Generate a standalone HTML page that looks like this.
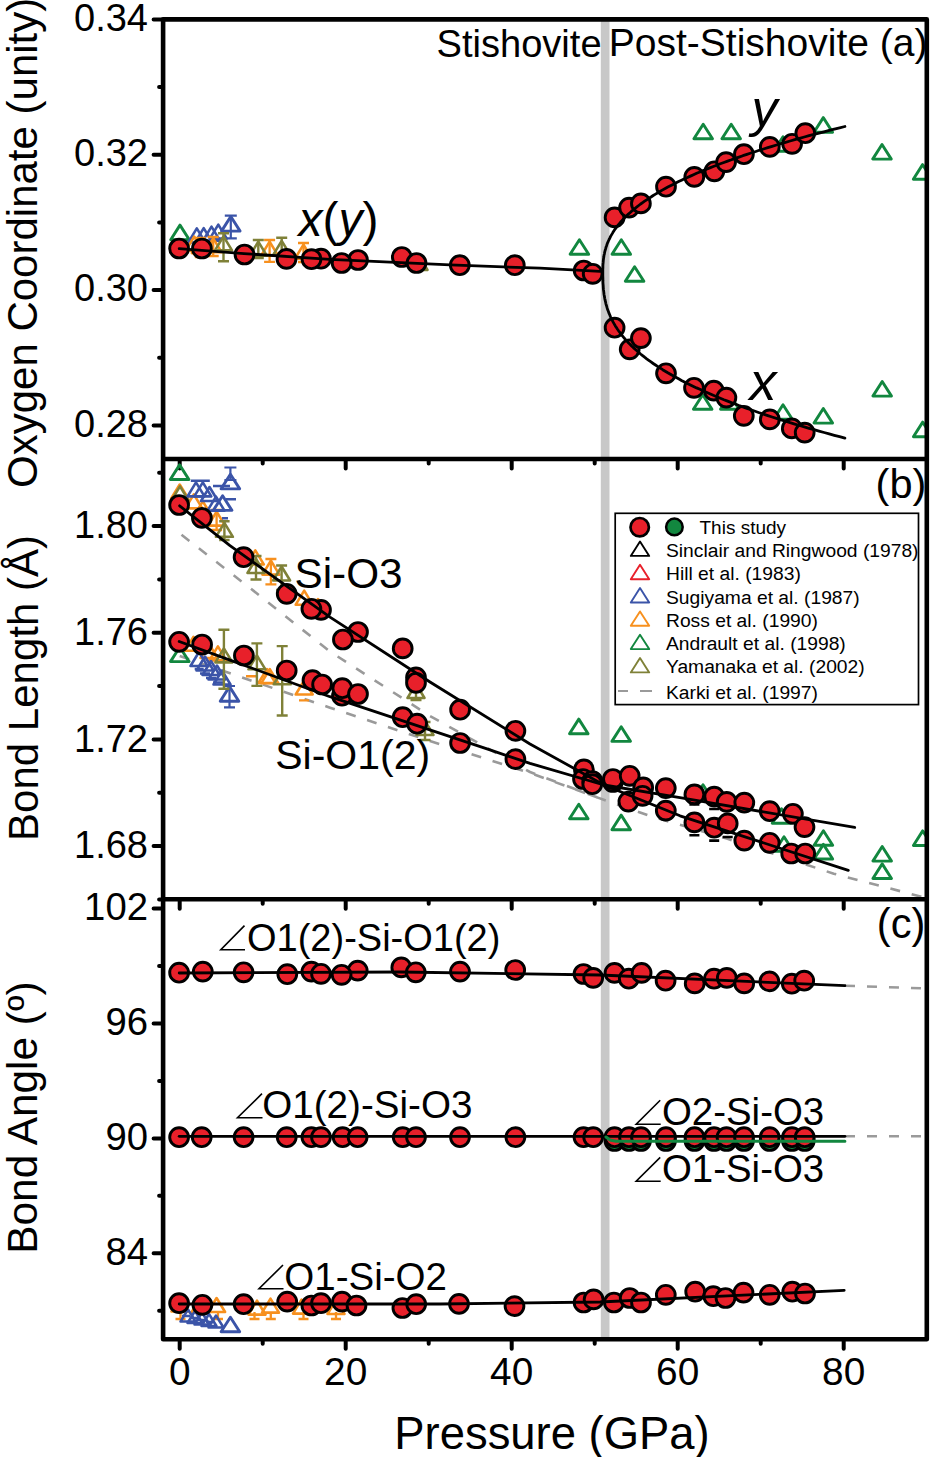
<!DOCTYPE html>
<html><head><meta charset="utf-8"><style>html,body{margin:0;padding:0;background:#fff;width:930px;height:1457px;overflow:hidden}svg{display:block}</style></head>
<body><svg width="930" height="1457" viewBox="0 0 930 1457">
<rect width="930" height="1457" fill="#fff"/>
<g font-family="&quot;Liberation Sans&quot;, sans-serif" fill="#000">
<rect x="600.8" y="19.4" width="8.7" height="1319.8999999999999" fill="#c8c8c8"/>
<path d="M179.7 459.0v9.5 M345.7 459.0v9.5 M511.7 459.0v9.5 M677.7 459.0v9.5 M843.7 459.0v9.5 M262.7 459.0v4.5 M428.7 459.0v4.5 M594.7 459.0v4.5 M760.7 459.0v4.5 M179.7 899.2v9.5 M345.7 899.2v9.5 M511.7 899.2v9.5 M677.7 899.2v9.5 M843.7 899.2v9.5 M262.7 899.2v4.5 M428.7 899.2v4.5 M594.7 899.2v4.5 M760.7 899.2v4.5 M179.7 1339.3v9.5 M345.7 1339.3v9.5 M511.7 1339.3v9.5 M677.7 1339.3v9.5 M843.7 1339.3v9.5 M262.7 1339.3v4.5 M428.7 1339.3v4.5 M594.7 1339.3v4.5 M760.7 1339.3v4.5 M163.1 19.4h-9.5 M163.1 154.7h-9.5 M163.1 290.1h-9.5 M163.1 425.4h-9.5 M163.1 87.1h-4 M163.1 222.4h-4 M163.1 357.8h-4 M163.1 526.1h-9.5 M163.1 632.8h-9.5 M163.1 739.5h-9.5 M163.1 846.1h-9.5 M163.1 472.8h-4 M163.1 579.4h-4 M163.1 686.1h-4 M163.1 792.8h-4 M163.1 899.5h-4 M163.1 908.6h-9.5 M163.1 1023.5h-9.5 M163.1 1138.4h-9.5 M163.1 1253.3h-9.5 M163.1 966.1h-4 M163.1 1081.0h-4 M163.1 1195.8h-4 M163.1 1310.8h-4" stroke="#000" stroke-width="4" stroke-linecap="round"/>
<clipPath id="ca"><rect x="163.1" y="19.4" width="763.6999999999999" height="439.6"/></clipPath>
<clipPath id="cb"><rect x="163.1" y="459.0" width="763.6999999999999" height="440.20000000000005"/></clipPath>
<clipPath id="cc"><rect x="163.1" y="899.2" width="763.6999999999999" height="440.0999999999999"/></clipPath>
<g clip-path="url(#ca)">
<path d="M180.0 225.1L189.3 239.7L170.7 239.7Z" fill="none" stroke="#12873f" stroke-width="2.9" stroke-linejoin="round"/>
<path d="M196.8 228.4L205.3 242.4L188.3 242.4Z" fill="none" stroke="#3b54a8" stroke-width="2.6" stroke-linejoin="round"/>
<path d="M203.7 228.1L212.2 242.1L195.2 242.1Z" fill="none" stroke="#3b54a8" stroke-width="2.6" stroke-linejoin="round"/>
<path d="M211.5 226.6L220.0 240.6L203.0 240.6Z" fill="none" stroke="#3b54a8" stroke-width="2.6" stroke-linejoin="round"/>
<path d="M218.3 224.6L226.8 238.6L209.8 238.6Z" fill="none" stroke="#3b54a8" stroke-width="2.6" stroke-linejoin="round"/>
<path d="M230.8 215.6V238.4M224.8 215.6h12M224.8 238.4h12" stroke="#3b54a8" stroke-width="2.2" fill="none"/>
<path d="M230.8 216.5L240.1 231.1L221.5 231.1Z" fill="none" stroke="#3b54a8" stroke-width="2.9" stroke-linejoin="round"/>
<path d="M194.2 236.6L202.7 250.6L185.7 250.6Z" fill="none" stroke="#f7901e" stroke-width="2.6" stroke-linejoin="round"/>
<path d="M200.3 239.1L208.8 253.1L191.8 253.1Z" fill="none" stroke="#f7901e" stroke-width="2.6" stroke-linejoin="round"/>
<path d="M213.2 238.3L221.7 252.3L204.7 252.3Z" fill="none" stroke="#f7901e" stroke-width="2.6" stroke-linejoin="round"/>
<path d="M269.6 241.6L278.1 255.6L261.1 255.6Z" fill="none" stroke="#f7901e" stroke-width="2.6" stroke-linejoin="round"/>
<path d="M303.5 244.6L312.0 258.6L295.0 258.6Z" fill="none" stroke="#f7901e" stroke-width="2.6" stroke-linejoin="round"/>
<path d="M200.3 238.0V257.0M194.8 238.0h11.0M194.8 257.0h11.0" stroke="#f7901e" stroke-width="2.3" fill="none"/>
<path d="M213.2 237.0V256.0M207.7 237.0h11.0M207.7 256.0h11.0" stroke="#f7901e" stroke-width="2.3" fill="none"/>
<path d="M269.6 240.0V261.9M264.1 240.0h11.0M264.1 261.9h11.0" stroke="#f7901e" stroke-width="2.3" fill="none"/>
<path d="M303.5 243.0V262.0M298.0 243.0h11.0M298.0 262.0h11.0" stroke="#f7901e" stroke-width="2.3" fill="none"/>
<path d="M223.5 233.2V261.2M218.0 233.2h11.0M218.0 261.2h11.0" stroke="#7f8138" stroke-width="2.4" fill="none"/>
<path d="M223.5 236.3L232.0 250.3L215.0 250.3Z" fill="none" stroke="#7f8138" stroke-width="2.6" stroke-linejoin="round"/>
<path d="M258.3 240.0V258.0M252.8 240.0h11.0M252.8 258.0h11.0" stroke="#7f8138" stroke-width="2.4" fill="none"/>
<path d="M258.3 241.6L266.8 255.6L249.8 255.6Z" fill="none" stroke="#7f8138" stroke-width="2.6" stroke-linejoin="round"/>
<path d="M281.7 237.8V258.0M276.2 237.8h11.0M276.2 258.0h11.0" stroke="#7f8138" stroke-width="2.4" fill="none"/>
<path d="M281.7 240.9L290.2 254.9L273.2 254.9Z" fill="none" stroke="#7f8138" stroke-width="2.6" stroke-linejoin="round"/>
<path d="M419.0 256.0L427.5 270.0L410.5 270.0Z" fill="none" stroke="#7f8138" stroke-width="2.6" stroke-linejoin="round"/>
<path d="M579.4 239.7L588.7 254.3L570.1 254.3Z" fill="none" stroke="#12873f" stroke-width="2.9" stroke-linejoin="round"/>
<path d="M621.3 239.7L630.6 254.3L612.0 254.3Z" fill="none" stroke="#12873f" stroke-width="2.9" stroke-linejoin="round"/>
<path d="M634.6 266.7L643.9 281.3L625.3 281.3Z" fill="none" stroke="#12873f" stroke-width="2.9" stroke-linejoin="round"/>
<path d="M703.2 124.2L712.5 138.8L693.9 138.8Z" fill="none" stroke="#12873f" stroke-width="2.9" stroke-linejoin="round"/>
<path d="M731.2 124.2L740.5 138.8L721.9 138.8Z" fill="none" stroke="#12873f" stroke-width="2.9" stroke-linejoin="round"/>
<path d="M783.0 136.7L792.3 151.3L773.7 151.3Z" fill="none" stroke="#12873f" stroke-width="2.9" stroke-linejoin="round"/>
<path d="M823.3 117.6L832.6 132.2L814.0 132.2Z" fill="none" stroke="#12873f" stroke-width="2.9" stroke-linejoin="round"/>
<path d="M882.0 144.5L891.3 159.1L872.7 159.1Z" fill="none" stroke="#12873f" stroke-width="2.9" stroke-linejoin="round"/>
<path d="M922.6 164.6L931.9 179.2L913.3 179.2Z" fill="none" stroke="#12873f" stroke-width="2.9" stroke-linejoin="round"/>
<path d="M702.7 394.7L712.0 409.3L693.4 409.3Z" fill="none" stroke="#12873f" stroke-width="2.9" stroke-linejoin="round"/>
<path d="M729.8 394.7L739.1 409.3L720.5 409.3Z" fill="none" stroke="#12873f" stroke-width="2.9" stroke-linejoin="round"/>
<path d="M783.0 404.7L792.3 419.3L773.7 419.3Z" fill="none" stroke="#12873f" stroke-width="2.9" stroke-linejoin="round"/>
<path d="M823.3 408.5L832.6 423.1L814.0 423.1Z" fill="none" stroke="#12873f" stroke-width="2.9" stroke-linejoin="round"/>
<path d="M882.2 381.5L891.5 396.1L872.9 396.1Z" fill="none" stroke="#12873f" stroke-width="2.9" stroke-linejoin="round"/>
<path d="M922.7 422.1L932.0 436.7L913.4 436.7Z" fill="none" stroke="#12873f" stroke-width="2.9" stroke-linejoin="round"/>
<circle cx="179.1" cy="248.5" r="9.4" fill="#e8202a" stroke="#000" stroke-width="2.9"/>
<circle cx="201.9" cy="248.5" r="9.4" fill="#e8202a" stroke="#000" stroke-width="2.9"/>
<circle cx="244.5" cy="254.5" r="9.4" fill="#e8202a" stroke="#000" stroke-width="2.9"/>
<circle cx="286.5" cy="258.9" r="9.4" fill="#e8202a" stroke="#000" stroke-width="2.9"/>
<circle cx="321.0" cy="258.7" r="9.4" fill="#e8202a" stroke="#000" stroke-width="2.9"/>
<circle cx="311.5" cy="259.2" r="9.4" fill="#e8202a" stroke="#000" stroke-width="2.9"/>
<circle cx="358.0" cy="260.0" r="9.4" fill="#e8202a" stroke="#000" stroke-width="2.9"/>
<circle cx="341.6" cy="263.0" r="9.4" fill="#e8202a" stroke="#000" stroke-width="2.9"/>
<circle cx="401.8" cy="257.0" r="9.4" fill="#e8202a" stroke="#000" stroke-width="2.9"/>
<circle cx="416.5" cy="263.0" r="9.4" fill="#e8202a" stroke="#000" stroke-width="2.9"/>
<circle cx="459.8" cy="265.2" r="9.4" fill="#e8202a" stroke="#000" stroke-width="2.9"/>
<circle cx="514.8" cy="265.2" r="9.4" fill="#e8202a" stroke="#000" stroke-width="2.9"/>
<circle cx="583.7" cy="270.5" r="9.4" fill="#e8202a" stroke="#000" stroke-width="2.9"/>
<circle cx="592.7" cy="273.8" r="9.4" fill="#e8202a" stroke="#000" stroke-width="2.9"/>
<circle cx="614.6" cy="217.4" r="9.4" fill="#e8202a" stroke="#000" stroke-width="2.9"/>
<circle cx="629.1" cy="207.6" r="9.4" fill="#e8202a" stroke="#000" stroke-width="2.9"/>
<circle cx="640.9" cy="203.4" r="9.4" fill="#e8202a" stroke="#000" stroke-width="2.9"/>
<circle cx="666.0" cy="186.7" r="9.4" fill="#e8202a" stroke="#000" stroke-width="2.9"/>
<circle cx="694.3" cy="176.9" r="9.4" fill="#e8202a" stroke="#000" stroke-width="2.9"/>
<circle cx="714.4" cy="171.3" r="9.4" fill="#e8202a" stroke="#000" stroke-width="2.9"/>
<circle cx="726.1" cy="162.1" r="9.4" fill="#e8202a" stroke="#000" stroke-width="2.9"/>
<circle cx="743.9" cy="154.2" r="9.4" fill="#e8202a" stroke="#000" stroke-width="2.9"/>
<circle cx="769.8" cy="146.9" r="9.4" fill="#e8202a" stroke="#000" stroke-width="2.9"/>
<circle cx="792.1" cy="143.8" r="9.4" fill="#e8202a" stroke="#000" stroke-width="2.9"/>
<circle cx="805.3" cy="133.2" r="9.4" fill="#e8202a" stroke="#000" stroke-width="2.9"/>
<circle cx="614.6" cy="327.7" r="9.4" fill="#e8202a" stroke="#000" stroke-width="2.9"/>
<circle cx="629.7" cy="349.3" r="9.4" fill="#e8202a" stroke="#000" stroke-width="2.9"/>
<circle cx="640.9" cy="338.1" r="9.4" fill="#e8202a" stroke="#000" stroke-width="2.9"/>
<circle cx="666.0" cy="373.3" r="9.4" fill="#e8202a" stroke="#000" stroke-width="2.9"/>
<circle cx="694.0" cy="387.8" r="9.4" fill="#e8202a" stroke="#000" stroke-width="2.9"/>
<circle cx="713.8" cy="390.6" r="9.4" fill="#e8202a" stroke="#000" stroke-width="2.9"/>
<circle cx="726.4" cy="397.6" r="9.4" fill="#e8202a" stroke="#000" stroke-width="2.9"/>
<circle cx="743.8" cy="415.8" r="9.4" fill="#e8202a" stroke="#000" stroke-width="2.9"/>
<circle cx="769.8" cy="419.4" r="9.4" fill="#e8202a" stroke="#000" stroke-width="2.9"/>
<circle cx="791.8" cy="428.4" r="9.4" fill="#e8202a" stroke="#000" stroke-width="2.9"/>
<circle cx="804.7" cy="432.6" r="9.4" fill="#e8202a" stroke="#000" stroke-width="2.9"/>
<path d="M179.2 248.7 L244.0 253.6 L330.0 259.3 L450.0 264.9 L540.0 268.2 L600.0 271.4" fill="none" stroke="#000" stroke-width="2.8" stroke-linecap="round" stroke-linejoin="round"/>
<path d="M844.9 126.5 L839.6 127.8 L834.3 129.1 L829.2 130.4 L824.1 131.8 L819.0 133.1 L814.1 134.4 L809.1 135.7 L804.3 137.0 L799.5 138.4 L794.8 139.7 L790.1 141.0 L785.5 142.3 L781.0 143.7 L776.5 145.0 L772.1 146.3 L767.8 147.7 L763.5 149.0 L759.2 150.3 L755.1 151.7 L751.0 153.0 L746.9 154.4 L742.9 155.7 L739.0 157.1 L735.2 158.4 L731.4 159.8 L727.6 161.1 L723.9 162.5 L720.3 163.8 L716.8 165.2 L713.3 166.5 L709.8 167.9 L706.4 169.3 L703.1 170.6 L699.9 172.0 L696.6 173.3 L693.5 174.7 L690.4 176.1 L687.4 177.5 L684.4 178.8 L681.5 180.2 L678.6 181.6 L675.8 183.0 L673.1 184.4 L670.4 185.8 L667.8 187.1 L665.2 188.5 L662.7 189.9 L660.3 191.3 L657.9 192.7 L655.5 194.1 L653.2 195.5 L651.0 197.0 L648.8 198.4 L646.7 199.8 L644.6 201.2 L642.6 202.6 L640.6 204.0 L638.7 205.5 L636.9 206.9 L635.1 208.3 L633.3 209.8 L631.6 211.2 L630.0 212.7 L628.4 214.1 L626.9 215.6 L625.4 217.0 L623.9 218.5 L622.6 219.9 L621.2 221.4 L620.0 222.9 L618.7 224.4 L617.5 225.8 L616.4 227.3 L615.3 228.8 L614.3 230.3 L613.3 231.8 L612.4 233.4 L611.5 234.9 L610.6 236.4 L609.9 237.9 L609.1 239.5 L608.4 241.0 L607.7 242.6 L607.1 244.1 L606.6 245.7 L606.0 247.3 L605.6 248.9 L605.1 250.5 L604.7 252.1 L604.4 253.8 L604.0 255.4 L603.8 257.1 L603.5 258.8 L603.3 260.5 L603.2 262.2 L603.0 264.0 L602.9 265.8 L602.9 267.7 L602.8 269.7 L602.8 272.0 L602.8 272.0 L602.8 272.0 L602.8 275.5 L602.9 278.3 L602.9 280.9 L603.0 283.3 L603.2 285.6 L603.3 287.8 L603.5 290.0 L603.8 292.1 L604.0 294.2 L604.4 296.2 L604.7 298.2 L605.1 300.2 L605.6 302.2 L606.0 304.1 L606.6 306.0 L607.1 307.9 L607.7 309.8 L608.4 311.6 L609.1 313.4 L609.9 315.2 L610.6 317.1 L611.5 318.8 L612.4 320.6 L613.3 322.4 L614.3 324.1 L615.3 325.9 L616.4 327.6 L617.5 329.3 L618.7 331.0 L620.0 332.7 L621.2 334.4 L622.6 336.1 L623.9 337.7 L625.4 339.4 L626.9 341.0 L628.4 342.7 L630.0 344.3 L631.6 346.0 L633.3 347.6 L635.1 349.2 L636.9 350.8 L638.7 352.4 L640.6 354.0 L642.6 355.6 L644.6 357.2 L646.7 358.8 L648.8 360.3 L651.0 361.9 L653.2 363.5 L655.5 365.0 L657.9 366.6 L660.3 368.1 L662.7 369.7 L665.2 371.2 L667.8 372.8 L670.4 374.3 L673.1 375.8 L675.8 377.3 L678.6 378.8 L681.5 380.4 L684.4 381.9 L687.4 383.4 L690.4 384.9 L693.5 386.4 L696.6 387.9 L699.9 389.3 L703.1 390.8 L706.4 392.3 L709.8 393.8 L713.3 395.3 L716.8 396.7 L720.3 398.2 L723.9 399.7 L727.6 401.1 L731.4 402.6 L735.2 404.0 L739.0 405.5 L742.9 406.9 L746.9 408.4 L751.0 409.8 L755.1 411.3 L759.2 412.7 L763.5 414.1 L767.8 415.6 L772.1 417.0 L776.5 418.4 L781.0 419.8 L785.5 421.2 L790.1 422.7 L794.8 424.1 L799.5 425.5 L804.3 426.9 L809.1 428.3 L814.1 429.7 L819.0 431.1 L824.1 432.5 L829.2 433.9 L834.3 435.3 L839.6 436.7 L844.9 438.1" fill="none" stroke="#000" stroke-width="2.8" stroke-linecap="round" stroke-linejoin="round"/>
</g>
<text x="436.5" y="56.8" font-size="38.1" text-anchor="start" >Stishovite</text>
<text x="608.8" y="56" font-size="39" text-anchor="start" >Post-Stishovite (a)</text>
<text x="298.5" y="235.6" font-size="48"><tspan font-style="italic">x</tspan>(<tspan font-style="italic">y</tspan>)</text>
<text x="751.5" y="125.5" font-size="52" font-style="italic">y</text>
<text x="749.5" y="399.8" font-size="54" font-style="italic">x</text>
<g clip-path="url(#cb)">
<path d="M181.5 534.8 L250.0 588.0 L330.0 651.6 L430.0 716.0 L530.0 772.0 L607.0 801.0" fill="none" stroke="#9a9a9a" stroke-width="2.6" stroke-linecap="butt" stroke-linejoin="round" stroke-dasharray="10 12"/>
<path d="M179.7 656.0 L330.0 707.7 L430.0 741.0 L530.0 773.0 L607.0 801.0 L650.0 816.0 L726.7 838.5 L833.8 873.7 L930.0 899.0" fill="none" stroke="#9a9a9a" stroke-width="2.6" stroke-linecap="butt" stroke-linejoin="round" stroke-dasharray="10 12"/>
<path d="M179.6 464.9L188.9 479.5L170.3 479.5Z" fill="none" stroke="#12873f" stroke-width="2.9" stroke-linejoin="round"/>
<path d="M179.7 484.5L188.2 498.5L171.2 498.5Z" fill="none" stroke="#f7901e" stroke-width="2.6" stroke-linejoin="round"/>
<path d="M193.8 494.4L202.3 508.4L185.3 508.4Z" fill="none" stroke="#f7901e" stroke-width="2.6" stroke-linejoin="round"/>
<path d="M202.8 501.3L211.3 515.3L194.3 515.3Z" fill="none" stroke="#f7901e" stroke-width="2.6" stroke-linejoin="round"/>
<path d="M216.6 511.6L225.1 525.6L208.1 525.6Z" fill="none" stroke="#f7901e" stroke-width="2.6" stroke-linejoin="round"/>
<path d="M255.3 550.4L263.8 564.4L246.8 564.4Z" fill="none" stroke="#f7901e" stroke-width="2.6" stroke-linejoin="round"/>
<path d="M270.9 560.6L279.4 574.6L262.4 574.6Z" fill="none" stroke="#f7901e" stroke-width="2.6" stroke-linejoin="round"/>
<path d="M304.2 590.7L312.7 604.7L295.7 604.7Z" fill="none" stroke="#f7901e" stroke-width="2.6" stroke-linejoin="round"/>
<path d="M318.0 599.0L326.5 613.0L309.5 613.0Z" fill="none" stroke="#f7901e" stroke-width="2.6" stroke-linejoin="round"/>
<path d="M270.9 559.0V584.3M265.4 559.0h11.0M265.4 584.3h11.0" stroke="#f7901e" stroke-width="2.3" fill="none"/>
<path d="M216.6 510.0V530.0M211.1 510.0h11.0M211.1 530.0h11.0" stroke="#f7901e" stroke-width="2.3" fill="none"/>
<path d="M180.0 486.3L188.5 500.3L171.5 500.3Z" fill="none" stroke="#7f8138" stroke-width="2.6" stroke-linejoin="round"/>
<path d="M196.0 482.4L204.5 496.4L187.5 496.4Z" fill="none" stroke="#3b54a8" stroke-width="2.6" stroke-linejoin="round"/>
<path d="M202.8 482.4L211.3 496.4L194.3 496.4Z" fill="none" stroke="#3b54a8" stroke-width="2.6" stroke-linejoin="round"/>
<path d="M209.5 487.0L218.0 501.0L201.0 501.0Z" fill="none" stroke="#3b54a8" stroke-width="2.6" stroke-linejoin="round"/>
<path d="M216.0 496.6L224.5 510.6L207.5 510.6Z" fill="none" stroke="#3b54a8" stroke-width="2.6" stroke-linejoin="round"/>
<path d="M190.8 480.8h19M213 486h17M226 499.3h10M222 518.2h6" stroke="#3b54a8" stroke-width="2.5"/>
<path d="M230.4 467.5V480.0M224.4 467.5h12M224.4 480.0h12" stroke="#3b54a8" stroke-width="2.2" fill="none"/>
<path d="M230.4 474.3L239.7 488.9L221.1 488.9Z" fill="none" stroke="#3b54a8" stroke-width="2.9" stroke-linejoin="round"/>
<path d="M222.6 495.8L231.9 510.4L213.3 510.4Z" fill="none" stroke="#3b54a8" stroke-width="2.9" stroke-linejoin="round"/>
<path d="M224.4 521.2V540.0M219.2 521.2h10.4M219.2 540.0h10.4" stroke="#7f8138" stroke-width="2.4" fill="none"/>
<path d="M224.4 522.8L232.9 536.8L215.9 536.8Z" fill="none" stroke="#7f8138" stroke-width="2.6" stroke-linejoin="round"/>
<path d="M256.0 556.0V579.5M250.5 556.0h11.0M250.5 579.5h11.0" stroke="#7f8138" stroke-width="2.4" fill="none"/>
<path d="M256.0 559.0L264.5 573.0L247.5 573.0Z" fill="none" stroke="#7f8138" stroke-width="2.6" stroke-linejoin="round"/>
<path d="M281.6 565.5V590.0M276.1 565.5h11.0M276.1 590.0h11.0" stroke="#7f8138" stroke-width="2.4" fill="none"/>
<path d="M281.6 566.5L290.1 580.5L273.1 580.5Z" fill="none" stroke="#7f8138" stroke-width="2.6" stroke-linejoin="round"/>
<path d="M179.8 647.0L189.1 661.6L170.5 661.6Z" fill="none" stroke="#12873f" stroke-width="2.9" stroke-linejoin="round"/>
<path d="M193.4 636.8L201.9 650.8L184.9 650.8Z" fill="none" stroke="#f7901e" stroke-width="2.6" stroke-linejoin="round"/>
<path d="M209.0 644.0L217.5 658.0L200.5 658.0Z" fill="none" stroke="#f7901e" stroke-width="2.6" stroke-linejoin="round"/>
<path d="M217.9 646.4L226.4 660.4L209.4 660.4Z" fill="none" stroke="#f7901e" stroke-width="2.6" stroke-linejoin="round"/>
<path d="M269.8 669.2L278.3 683.2L261.3 683.2Z" fill="none" stroke="#f7901e" stroke-width="2.6" stroke-linejoin="round"/>
<path d="M267.0 669.0L275.5 683.0L258.5 683.0Z" fill="none" stroke="#f7901e" stroke-width="2.6" stroke-linejoin="round"/>
<path d="M304.2 680.5L312.7 694.5L295.7 694.5Z" fill="none" stroke="#f7901e" stroke-width="2.6" stroke-linejoin="round"/>
<path d="M246 676.2h10M299 700.4h10" stroke="#f7901e" stroke-width="2.4"/>
<path d="M199.0 652.0L207.5 666.0L190.5 666.0Z" fill="none" stroke="#3b54a8" stroke-width="2.6" stroke-linejoin="round"/>
<path d="M205.0 656.5L213.5 670.5L196.5 670.5Z" fill="none" stroke="#3b54a8" stroke-width="2.6" stroke-linejoin="round"/>
<path d="M211.0 661.0L219.5 675.0L202.5 675.0Z" fill="none" stroke="#3b54a8" stroke-width="2.6" stroke-linejoin="round"/>
<path d="M217.0 665.5L225.5 679.5L208.5 679.5Z" fill="none" stroke="#3b54a8" stroke-width="2.6" stroke-linejoin="round"/>
<path d="M222.0 670.5L230.5 684.5L213.5 684.5Z" fill="none" stroke="#3b54a8" stroke-width="2.6" stroke-linejoin="round"/>
<path d="M194.7 669h9M200 673.5h10M206 678h10M213 682.5h10" stroke="#3b54a8" stroke-width="2.4"/>
<path d="M229.5 686.0V707.4M224.0 686.0h11.0M224.0 707.4h11.0" stroke="#3b54a8" stroke-width="2.2" fill="none"/>
<path d="M229.5 686.6L238.8 701.2L220.2 701.2Z" fill="none" stroke="#3b54a8" stroke-width="2.9" stroke-linejoin="round"/>
<path d="M223.9 629.7V688.8M218.4 629.7h11.0M218.4 688.8h11.0" stroke="#7f8138" stroke-width="2.4" fill="none"/>
<path d="M223.9 648.4L232.4 662.4L215.4 662.4Z" fill="none" stroke="#7f8138" stroke-width="2.6" stroke-linejoin="round"/>
<path d="M256.9 643.4V685.9M251.4 643.4h11.0M251.4 685.9h11.0" stroke="#7f8138" stroke-width="2.4" fill="none"/>
<path d="M256.9 655.3L265.4 669.3L248.4 669.3Z" fill="none" stroke="#7f8138" stroke-width="2.6" stroke-linejoin="round"/>
<path d="M282.2 646.1V715.5M276.7 646.1h11.0M276.7 715.5h11.0" stroke="#7f8138" stroke-width="2.4" fill="none"/>
<path d="M282.2 670.3L290.7 684.3L273.7 684.3Z" fill="none" stroke="#7f8138" stroke-width="2.6" stroke-linejoin="round"/>
<path d="M416.0 680.0V700.0M410.5 680.0h11.0M410.5 700.0h11.0" stroke="#7f8138" stroke-width="2.4" fill="none"/>
<path d="M416.0 684.0L424.5 698.0L407.5 698.0Z" fill="none" stroke="#7f8138" stroke-width="2.6" stroke-linejoin="round"/>
<path d="M425.0 722.0V740.0M419.5 722.0h11.0M419.5 740.0h11.0" stroke="#7f8138" stroke-width="2.4" fill="none"/>
<path d="M425.0 721.0L433.5 735.0L416.5 735.0Z" fill="none" stroke="#7f8138" stroke-width="2.6" stroke-linejoin="round"/>
<path d="M578.8 719.1L588.1 733.7L569.5 733.7Z" fill="none" stroke="#12873f" stroke-width="2.9" stroke-linejoin="round"/>
<path d="M621.2 726.8L630.5 741.4L611.9 741.4Z" fill="none" stroke="#12873f" stroke-width="2.9" stroke-linejoin="round"/>
<path d="M578.8 804.2L588.1 818.8L569.5 818.8Z" fill="none" stroke="#12873f" stroke-width="2.9" stroke-linejoin="round"/>
<path d="M621.2 815.1L630.5 829.7L611.9 829.7Z" fill="none" stroke="#12873f" stroke-width="2.9" stroke-linejoin="round"/>
<path d="M703.0 784.7L712.3 799.3L693.7 799.3Z" fill="none" stroke="#12873f" stroke-width="2.9" stroke-linejoin="round"/>
<path d="M781.5 808.7L790.8 823.3L772.2 823.3Z" fill="none" stroke="#12873f" stroke-width="2.9" stroke-linejoin="round"/>
<path d="M784.0 836.7L793.3 851.3L774.7 851.3Z" fill="none" stroke="#12873f" stroke-width="2.9" stroke-linejoin="round"/>
<path d="M823.4 830.7L832.7 845.3L814.1 845.3Z" fill="none" stroke="#12873f" stroke-width="2.9" stroke-linejoin="round"/>
<path d="M823.4 844.4L832.7 859.0L814.1 859.0Z" fill="none" stroke="#12873f" stroke-width="2.9" stroke-linejoin="round"/>
<path d="M882.2 846.5L891.5 861.1L872.9 861.1Z" fill="none" stroke="#12873f" stroke-width="2.9" stroke-linejoin="round"/>
<path d="M882.2 863.9L891.5 878.5L872.9 878.5Z" fill="none" stroke="#12873f" stroke-width="2.9" stroke-linejoin="round"/>
<path d="M922.7 830.9L932.0 845.5L913.4 845.5Z" fill="none" stroke="#12873f" stroke-width="2.9" stroke-linejoin="round"/>
<circle cx="179.1" cy="505.0" r="9.4" fill="#e8202a" stroke="#000" stroke-width="2.9"/>
<circle cx="201.9" cy="517.9" r="9.4" fill="#e8202a" stroke="#000" stroke-width="2.9"/>
<circle cx="243.6" cy="557.2" r="9.4" fill="#e8202a" stroke="#000" stroke-width="2.9"/>
<circle cx="286.7" cy="593.8" r="9.4" fill="#e8202a" stroke="#000" stroke-width="2.9"/>
<circle cx="321.0" cy="609.9" r="9.4" fill="#e8202a" stroke="#000" stroke-width="2.9"/>
<circle cx="311.4" cy="608.8" r="9.4" fill="#e8202a" stroke="#000" stroke-width="2.9"/>
<circle cx="358.0" cy="632.0" r="9.4" fill="#e8202a" stroke="#000" stroke-width="2.9"/>
<circle cx="342.9" cy="639.5" r="9.4" fill="#e8202a" stroke="#000" stroke-width="2.9"/>
<circle cx="402.7" cy="648.4" r="9.4" fill="#e8202a" stroke="#000" stroke-width="2.9"/>
<circle cx="416.0" cy="677.4" r="9.4" fill="#e8202a" stroke="#000" stroke-width="2.9"/>
<circle cx="416.0" cy="682.8" r="9.4" fill="#e8202a" stroke="#000" stroke-width="2.9"/>
<circle cx="460.1" cy="709.7" r="9.4" fill="#e8202a" stroke="#000" stroke-width="2.9"/>
<circle cx="515.4" cy="730.8" r="9.4" fill="#e8202a" stroke="#000" stroke-width="2.9"/>
<circle cx="179.1" cy="641.8" r="9.4" fill="#e8202a" stroke="#000" stroke-width="2.9"/>
<circle cx="202.1" cy="644.5" r="9.4" fill="#e8202a" stroke="#000" stroke-width="2.9"/>
<circle cx="243.9" cy="655.5" r="9.4" fill="#e8202a" stroke="#000" stroke-width="2.9"/>
<circle cx="286.7" cy="670.5" r="9.4" fill="#e8202a" stroke="#000" stroke-width="2.9"/>
<circle cx="312.5" cy="680.2" r="9.4" fill="#e8202a" stroke="#000" stroke-width="2.9"/>
<circle cx="322.1" cy="684.5" r="9.4" fill="#e8202a" stroke="#000" stroke-width="2.9"/>
<circle cx="342.0" cy="695.7" r="9.4" fill="#e8202a" stroke="#000" stroke-width="2.9"/>
<circle cx="342.3" cy="688.2" r="9.4" fill="#e8202a" stroke="#000" stroke-width="2.9"/>
<circle cx="358.0" cy="694.0" r="9.4" fill="#e8202a" stroke="#000" stroke-width="2.9"/>
<circle cx="402.7" cy="717.2" r="9.4" fill="#e8202a" stroke="#000" stroke-width="2.9"/>
<circle cx="417.1" cy="723.7" r="9.4" fill="#e8202a" stroke="#000" stroke-width="2.9"/>
<circle cx="460.1" cy="743.0" r="9.4" fill="#e8202a" stroke="#000" stroke-width="2.9"/>
<circle cx="515.4" cy="759.1" r="9.4" fill="#e8202a" stroke="#000" stroke-width="2.9"/>
<path d="M689.4 804.5h10M709.2 809h10M689.4 835.3h10M709.2 840.6h10M722.7 837h10" stroke="#000" stroke-width="2.6"/>
<circle cx="583.9" cy="769.4" r="9.4" fill="#e8202a" stroke="#000" stroke-width="2.9"/>
<circle cx="583.0" cy="779.0" r="9.4" fill="#e8202a" stroke="#000" stroke-width="2.9"/>
<circle cx="592.3" cy="781.0" r="9.4" fill="#e8202a" stroke="#000" stroke-width="2.9"/>
<circle cx="592.3" cy="784.2" r="9.4" fill="#e8202a" stroke="#000" stroke-width="2.9"/>
<circle cx="612.9" cy="782.0" r="9.4" fill="#e8202a" stroke="#000" stroke-width="2.9"/>
<circle cx="612.9" cy="779.0" r="9.4" fill="#e8202a" stroke="#000" stroke-width="2.9"/>
<circle cx="629.7" cy="775.8" r="9.4" fill="#e8202a" stroke="#000" stroke-width="2.9"/>
<circle cx="643.2" cy="787.4" r="9.4" fill="#e8202a" stroke="#000" stroke-width="2.9"/>
<circle cx="628.4" cy="801.6" r="9.4" fill="#e8202a" stroke="#000" stroke-width="2.9"/>
<circle cx="642.6" cy="795.8" r="9.4" fill="#e8202a" stroke="#000" stroke-width="2.9"/>
<circle cx="665.8" cy="788.1" r="9.4" fill="#e8202a" stroke="#000" stroke-width="2.9"/>
<circle cx="665.8" cy="810.6" r="9.4" fill="#e8202a" stroke="#000" stroke-width="2.9"/>
<circle cx="694.4" cy="794.4" r="9.4" fill="#e8202a" stroke="#000" stroke-width="2.9"/>
<circle cx="714.2" cy="796.6" r="9.4" fill="#e8202a" stroke="#000" stroke-width="2.9"/>
<circle cx="726.7" cy="801.9" r="9.4" fill="#e8202a" stroke="#000" stroke-width="2.9"/>
<circle cx="744.3" cy="802.6" r="9.4" fill="#e8202a" stroke="#000" stroke-width="2.9"/>
<circle cx="769.7" cy="811.2" r="9.4" fill="#e8202a" stroke="#000" stroke-width="2.9"/>
<circle cx="792.9" cy="813.8" r="9.4" fill="#e8202a" stroke="#000" stroke-width="2.9"/>
<circle cx="804.5" cy="827.1" r="9.4" fill="#e8202a" stroke="#000" stroke-width="2.9"/>
<circle cx="694.4" cy="822.4" r="9.4" fill="#e8202a" stroke="#000" stroke-width="2.9"/>
<circle cx="714.2" cy="827.7" r="9.4" fill="#e8202a" stroke="#000" stroke-width="2.9"/>
<circle cx="727.7" cy="823.4" r="9.4" fill="#e8202a" stroke="#000" stroke-width="2.9"/>
<circle cx="744.3" cy="840.6" r="9.4" fill="#e8202a" stroke="#000" stroke-width="2.9"/>
<circle cx="769.7" cy="842.8" r="9.4" fill="#e8202a" stroke="#000" stroke-width="2.9"/>
<circle cx="791.2" cy="853.5" r="9.4" fill="#e8202a" stroke="#000" stroke-width="2.9"/>
<circle cx="805.2" cy="853.5" r="9.4" fill="#e8202a" stroke="#000" stroke-width="2.9"/>
<path d="M179.6 505.8 L213.2 532.4 L230.0 545.6 L330.0 617.1 L430.0 682.0 L530.0 744.0 L604.0 785.0" fill="none" stroke="#000" stroke-width="2.8" stroke-linecap="round" stroke-linejoin="round"/>
<path d="M179.2 641.5 L230.0 660.1 L330.0 696.7 L490.0 749.9 L530.0 763.4 L604.0 785.0" fill="none" stroke="#000" stroke-width="2.8" stroke-linecap="round" stroke-linejoin="round"/>
<path d="M604.0 785.0 L680.0 797.7 L854.7 827.4" fill="none" stroke="#000" stroke-width="2.8" stroke-linecap="round" stroke-linejoin="round"/>
<path d="M604.0 785.0 L680.0 815.8 L848.3 870.4" fill="none" stroke="#000" stroke-width="2.8" stroke-linecap="round" stroke-linejoin="round"/>
</g>
<text x="875.6" y="497.6" font-size="41.5" text-anchor="start" >(b)</text>
<text x="294.5" y="588" font-size="42.3" text-anchor="start" >Si-O3</text>
<text x="275.2" y="769" font-size="41" text-anchor="start" >Si-O1(2)</text>
<rect x="615.2" y="513.3" width="303.3" height="191.3" fill="#fff" stroke="#000" stroke-width="1.7"/>
<circle cx="639.7" cy="527.2" r="9.2" fill="#e8202a" stroke="#000" stroke-width="2.7"/>
<circle cx="674.4" cy="526.9" r="8.3" fill="#12873f" stroke="#000" stroke-width="2.5"/>
<path d="M640.0 541.5L649.2 555.9L630.8 555.9Z" fill="none" stroke="#000" stroke-width="1.9" stroke-linejoin="round"/>
<text x="666" y="556.9000000000001" font-size="19.25" text-anchor="start" >Sinclair and Ringwood (1978)</text>
<path d="M640.0 564.8L649.2 579.2L630.8 579.2Z" fill="none" stroke="#e8202a" stroke-width="1.9" stroke-linejoin="round"/>
<text x="666" y="580.2" font-size="19.25" text-anchor="start" >Hill et al. (1983)</text>
<path d="M640.0 588.1L649.2 602.5L630.8 602.5Z" fill="none" stroke="#3b54a8" stroke-width="1.9" stroke-linejoin="round"/>
<text x="666" y="603.5000000000001" font-size="19.25" text-anchor="start" >Sugiyama et al. (1987)</text>
<path d="M640.0 611.4L649.2 625.8L630.8 625.8Z" fill="none" stroke="#f7901e" stroke-width="1.9" stroke-linejoin="round"/>
<text x="666" y="626.8000000000001" font-size="19.25" text-anchor="start" >Ross et al. (1990)</text>
<path d="M640.0 634.7L649.2 649.1L630.8 649.1Z" fill="none" stroke="#12873f" stroke-width="1.9" stroke-linejoin="round"/>
<text x="666" y="650.1000000000001" font-size="19.25" text-anchor="start" >Andrault et al. (1998)</text>
<path d="M640.0 658.0L649.2 672.4L630.8 672.4Z" fill="none" stroke="#7f8138" stroke-width="1.9" stroke-linejoin="round"/>
<text x="666" y="673.4000000000001" font-size="19.25" text-anchor="start" >Yamanaka et al. (2002)</text>
<text x="699.5" y="534" font-size="19" text-anchor="start" >This study</text>
<path d="M618 690.9h10M640 690.9h12" stroke="#9a9a9a" stroke-width="2"/>
<text x="666" y="699.1" font-size="19.25" text-anchor="start" >Karki et al. (1997)</text>
<g clip-path="url(#cc)">
<path d="M845.0 985.7 L930.0 988.6" fill="none" stroke="#9a9a9a" stroke-width="2.4" stroke-linecap="butt" stroke-linejoin="round" stroke-dasharray="10 12"/>
<path d="M845.0 1136.3 L930.0 1136.3" fill="none" stroke="#9a9a9a" stroke-width="2.4" stroke-linecap="butt" stroke-linejoin="round" stroke-dasharray="10 12"/>
<path d="M180.0 1297.5L188.5 1311.5L171.5 1311.5Z" fill="none" stroke="#f7901e" stroke-width="2.6" stroke-linejoin="round"/>
<path d="M200.0 1298.5L208.5 1312.5L191.5 1312.5Z" fill="none" stroke="#f7901e" stroke-width="2.6" stroke-linejoin="round"/>
<path d="M216.6 1298.0L225.1 1312.0L208.1 1312.0Z" fill="none" stroke="#f7901e" stroke-width="2.6" stroke-linejoin="round"/>
<path d="M257.0 1300.6L265.5 1314.6L248.5 1314.6Z" fill="none" stroke="#f7901e" stroke-width="2.6" stroke-linejoin="round"/>
<path d="M270.5 1298.6L279.0 1312.6L262.0 1312.6Z" fill="none" stroke="#f7901e" stroke-width="2.6" stroke-linejoin="round"/>
<path d="M301.5 1299.6L310.0 1313.6L293.0 1313.6Z" fill="none" stroke="#f7901e" stroke-width="2.6" stroke-linejoin="round"/>
<path d="M336.0 1300.0L344.5 1314.0L327.5 1314.0Z" fill="none" stroke="#f7901e" stroke-width="2.6" stroke-linejoin="round"/>
<path d="M180.5 1312V1319M175.5 1319h10" stroke="#f7901e" stroke-width="2.3" fill="none"/>
<path d="M218 1312V1319M213 1319h10" stroke="#f7901e" stroke-width="2.3" fill="none"/>
<path d="M254.5 1312V1319M249.5 1319h10" stroke="#f7901e" stroke-width="2.3" fill="none"/>
<path d="M270.8 1312V1319M265.8 1319h10" stroke="#f7901e" stroke-width="2.3" fill="none"/>
<path d="M303.5 1312V1319M298.5 1319h10" stroke="#f7901e" stroke-width="2.3" fill="none"/>
<path d="M336 1312V1319M331 1319h10" stroke="#f7901e" stroke-width="2.3" fill="none"/>
<path d="M188.0 1309.5L195.5 1321.5L180.5 1321.5Z" fill="none" stroke="#3b54a8" stroke-width="2.5" stroke-linejoin="round"/>
<path d="M195.0 1311.0L202.5 1323.0L187.5 1323.0Z" fill="none" stroke="#3b54a8" stroke-width="2.5" stroke-linejoin="round"/>
<path d="M202.0 1312.5L209.5 1324.5L194.5 1324.5Z" fill="none" stroke="#3b54a8" stroke-width="2.5" stroke-linejoin="round"/>
<path d="M209.0 1314.0L216.5 1326.0L201.5 1326.0Z" fill="none" stroke="#3b54a8" stroke-width="2.5" stroke-linejoin="round"/>
<path d="M216.0 1315.5L223.5 1327.5L208.5 1327.5Z" fill="none" stroke="#3b54a8" stroke-width="2.5" stroke-linejoin="round"/>
<path d="M182 1316h8M190 1318h8M198 1320h8M206 1322h8" stroke="#3b54a8" stroke-width="2.3"/>
<path d="M230.4 1317.2L239.7 1331.8L221.1 1331.8Z" fill="none" stroke="#3b54a8" stroke-width="2.9" stroke-linejoin="round"/>
<circle cx="179.1" cy="972.7" r="9.4" fill="#e8202a" stroke="#000" stroke-width="2.9"/>
<circle cx="202.8" cy="971.6" r="9.4" fill="#e8202a" stroke="#000" stroke-width="2.9"/>
<circle cx="243.6" cy="972.3" r="9.4" fill="#e8202a" stroke="#000" stroke-width="2.9"/>
<circle cx="287.3" cy="974.2" r="9.4" fill="#e8202a" stroke="#000" stroke-width="2.9"/>
<circle cx="311.4" cy="971.6" r="9.4" fill="#e8202a" stroke="#000" stroke-width="2.9"/>
<circle cx="321.0" cy="973.8" r="9.4" fill="#e8202a" stroke="#000" stroke-width="2.9"/>
<circle cx="357.7" cy="970.6" r="9.4" fill="#e8202a" stroke="#000" stroke-width="2.9"/>
<circle cx="341.6" cy="974.8" r="9.4" fill="#e8202a" stroke="#000" stroke-width="2.9"/>
<circle cx="401.3" cy="967.4" r="9.4" fill="#e8202a" stroke="#000" stroke-width="2.9"/>
<circle cx="415.8" cy="972.3" r="9.4" fill="#e8202a" stroke="#000" stroke-width="2.9"/>
<circle cx="460.0" cy="971.6" r="9.4" fill="#e8202a" stroke="#000" stroke-width="2.9"/>
<circle cx="515.2" cy="970.0" r="9.4" fill="#e8202a" stroke="#000" stroke-width="2.9"/>
<circle cx="583.5" cy="974.0" r="9.4" fill="#e8202a" stroke="#000" stroke-width="2.9"/>
<circle cx="593.2" cy="977.9" r="9.4" fill="#e8202a" stroke="#000" stroke-width="2.9"/>
<circle cx="614.5" cy="972.9" r="9.4" fill="#e8202a" stroke="#000" stroke-width="2.9"/>
<circle cx="628.8" cy="978.7" r="9.4" fill="#e8202a" stroke="#000" stroke-width="2.9"/>
<circle cx="641.6" cy="972.9" r="9.4" fill="#e8202a" stroke="#000" stroke-width="2.9"/>
<circle cx="665.6" cy="980.7" r="9.4" fill="#e8202a" stroke="#000" stroke-width="2.9"/>
<circle cx="694.7" cy="983.4" r="9.4" fill="#e8202a" stroke="#000" stroke-width="2.9"/>
<circle cx="714.0" cy="978.7" r="9.4" fill="#e8202a" stroke="#000" stroke-width="2.9"/>
<circle cx="726.8" cy="977.9" r="9.4" fill="#e8202a" stroke="#000" stroke-width="2.9"/>
<circle cx="744.2" cy="983.4" r="9.4" fill="#e8202a" stroke="#000" stroke-width="2.9"/>
<circle cx="769.4" cy="981.4" r="9.4" fill="#e8202a" stroke="#000" stroke-width="2.9"/>
<circle cx="791.8" cy="983.7" r="9.4" fill="#e8202a" stroke="#000" stroke-width="2.9"/>
<circle cx="804.2" cy="980.7" r="9.4" fill="#e8202a" stroke="#000" stroke-width="2.9"/>
<circle cx="614.5" cy="1141.0" r="9.4" fill="#12873f" stroke="#000" stroke-width="2.9"/>
<circle cx="629.0" cy="1141.0" r="9.4" fill="#12873f" stroke="#000" stroke-width="2.9"/>
<circle cx="641.0" cy="1141.0" r="9.4" fill="#12873f" stroke="#000" stroke-width="2.9"/>
<circle cx="666.0" cy="1141.0" r="9.4" fill="#12873f" stroke="#000" stroke-width="2.9"/>
<circle cx="694.5" cy="1141.0" r="9.4" fill="#12873f" stroke="#000" stroke-width="2.9"/>
<circle cx="714.0" cy="1141.0" r="9.4" fill="#12873f" stroke="#000" stroke-width="2.9"/>
<circle cx="726.5" cy="1141.0" r="9.4" fill="#12873f" stroke="#000" stroke-width="2.9"/>
<circle cx="744.0" cy="1141.0" r="9.4" fill="#12873f" stroke="#000" stroke-width="2.9"/>
<circle cx="769.7" cy="1141.0" r="9.4" fill="#12873f" stroke="#000" stroke-width="2.9"/>
<circle cx="792.0" cy="1141.0" r="9.4" fill="#12873f" stroke="#000" stroke-width="2.9"/>
<circle cx="804.7" cy="1141.0" r="9.4" fill="#12873f" stroke="#000" stroke-width="2.9"/>
<circle cx="179.1" cy="1137.2" r="9.4" fill="#e8202a" stroke="#000" stroke-width="2.9"/>
<circle cx="201.7" cy="1137.2" r="9.4" fill="#e8202a" stroke="#000" stroke-width="2.9"/>
<circle cx="243.6" cy="1137.2" r="9.4" fill="#e8202a" stroke="#000" stroke-width="2.9"/>
<circle cx="286.7" cy="1137.2" r="9.4" fill="#e8202a" stroke="#000" stroke-width="2.9"/>
<circle cx="311.4" cy="1137.2" r="9.4" fill="#e8202a" stroke="#000" stroke-width="2.9"/>
<circle cx="321.0" cy="1137.2" r="9.4" fill="#e8202a" stroke="#000" stroke-width="2.9"/>
<circle cx="342.6" cy="1137.2" r="9.4" fill="#e8202a" stroke="#000" stroke-width="2.9"/>
<circle cx="357.6" cy="1137.2" r="9.4" fill="#e8202a" stroke="#000" stroke-width="2.9"/>
<circle cx="402.7" cy="1137.2" r="9.4" fill="#e8202a" stroke="#000" stroke-width="2.9"/>
<circle cx="416.0" cy="1137.2" r="9.4" fill="#e8202a" stroke="#000" stroke-width="2.9"/>
<circle cx="460.0" cy="1137.2" r="9.4" fill="#e8202a" stroke="#000" stroke-width="2.9"/>
<circle cx="515.4" cy="1137.2" r="9.4" fill="#e8202a" stroke="#000" stroke-width="2.9"/>
<circle cx="583.5" cy="1137.2" r="9.4" fill="#e8202a" stroke="#000" stroke-width="2.9"/>
<circle cx="593.2" cy="1137.2" r="9.4" fill="#e8202a" stroke="#000" stroke-width="2.9"/>
<circle cx="614.5" cy="1137.2" r="9.4" fill="#e8202a" stroke="#000" stroke-width="2.9"/>
<circle cx="629.0" cy="1137.2" r="9.4" fill="#e8202a" stroke="#000" stroke-width="2.9"/>
<circle cx="641.0" cy="1137.2" r="9.4" fill="#e8202a" stroke="#000" stroke-width="2.9"/>
<circle cx="666.0" cy="1137.2" r="9.4" fill="#e8202a" stroke="#000" stroke-width="2.9"/>
<circle cx="694.5" cy="1137.2" r="9.4" fill="#e8202a" stroke="#000" stroke-width="2.9"/>
<circle cx="714.0" cy="1137.2" r="9.4" fill="#e8202a" stroke="#000" stroke-width="2.9"/>
<circle cx="726.5" cy="1137.2" r="9.4" fill="#e8202a" stroke="#000" stroke-width="2.9"/>
<circle cx="744.0" cy="1137.2" r="9.4" fill="#e8202a" stroke="#000" stroke-width="2.9"/>
<circle cx="769.7" cy="1137.2" r="9.4" fill="#e8202a" stroke="#000" stroke-width="2.9"/>
<circle cx="792.0" cy="1137.2" r="9.4" fill="#e8202a" stroke="#000" stroke-width="2.9"/>
<circle cx="804.7" cy="1137.2" r="9.4" fill="#e8202a" stroke="#000" stroke-width="2.9"/>
<circle cx="179.1" cy="1303.2" r="9.4" fill="#e8202a" stroke="#000" stroke-width="2.9"/>
<circle cx="202.4" cy="1304.8" r="9.4" fill="#e8202a" stroke="#000" stroke-width="2.9"/>
<circle cx="243.6" cy="1304.2" r="9.4" fill="#e8202a" stroke="#000" stroke-width="2.9"/>
<circle cx="287.2" cy="1301.6" r="9.4" fill="#e8202a" stroke="#000" stroke-width="2.9"/>
<circle cx="311.4" cy="1305.5" r="9.4" fill="#e8202a" stroke="#000" stroke-width="2.9"/>
<circle cx="321.0" cy="1303.2" r="9.4" fill="#e8202a" stroke="#000" stroke-width="2.9"/>
<circle cx="342.0" cy="1301.6" r="9.4" fill="#e8202a" stroke="#000" stroke-width="2.9"/>
<circle cx="356.5" cy="1305.5" r="9.4" fill="#e8202a" stroke="#000" stroke-width="2.9"/>
<circle cx="402.4" cy="1308.0" r="9.4" fill="#e8202a" stroke="#000" stroke-width="2.9"/>
<circle cx="416.2" cy="1304.2" r="9.4" fill="#e8202a" stroke="#000" stroke-width="2.9"/>
<circle cx="459.0" cy="1303.9" r="9.4" fill="#e8202a" stroke="#000" stroke-width="2.9"/>
<circle cx="514.5" cy="1306.1" r="9.4" fill="#e8202a" stroke="#000" stroke-width="2.9"/>
<circle cx="583.6" cy="1302.5" r="9.4" fill="#e8202a" stroke="#000" stroke-width="2.9"/>
<circle cx="593.6" cy="1299.4" r="9.4" fill="#e8202a" stroke="#000" stroke-width="2.9"/>
<circle cx="613.9" cy="1302.5" r="9.4" fill="#e8202a" stroke="#000" stroke-width="2.9"/>
<circle cx="629.7" cy="1298.0" r="9.4" fill="#e8202a" stroke="#000" stroke-width="2.9"/>
<circle cx="641.0" cy="1302.5" r="9.4" fill="#e8202a" stroke="#000" stroke-width="2.9"/>
<circle cx="665.8" cy="1294.8" r="9.4" fill="#e8202a" stroke="#000" stroke-width="2.9"/>
<circle cx="695.2" cy="1291.7" r="9.4" fill="#e8202a" stroke="#000" stroke-width="2.9"/>
<circle cx="713.3" cy="1296.2" r="9.4" fill="#e8202a" stroke="#000" stroke-width="2.9"/>
<circle cx="725.5" cy="1298.0" r="9.4" fill="#e8202a" stroke="#000" stroke-width="2.9"/>
<circle cx="743.5" cy="1292.6" r="9.4" fill="#e8202a" stroke="#000" stroke-width="2.9"/>
<circle cx="769.7" cy="1294.8" r="9.4" fill="#e8202a" stroke="#000" stroke-width="2.9"/>
<circle cx="792.3" cy="1291.7" r="9.4" fill="#e8202a" stroke="#000" stroke-width="2.9"/>
<circle cx="805.0" cy="1293.5" r="9.4" fill="#e8202a" stroke="#000" stroke-width="2.9"/>
<path d="M179.2 1304.0 L440.0 1304.0 L600.0 1302.0 L844.2 1290.3" fill="none" stroke="#000" stroke-width="2.8" stroke-linecap="round" stroke-linejoin="round"/>
<path d="M179.2 973.0 L400.0 972.0 L600.0 975.0 L844.9 985.7" fill="none" stroke="#000" stroke-width="2.8" stroke-linecap="round" stroke-linejoin="round"/>
<path d="M179.2 1136.3 L844.9 1136.3" fill="none" stroke="#000" stroke-width="2.8" stroke-linecap="round" stroke-linejoin="round"/>
<path d="M606.0 1137.0 L610.0 1140.0 L616.0 1141.3 L844.9 1141.3" fill="none" stroke="#12873f" stroke-width="3.0" stroke-linecap="round" stroke-linejoin="round"/>
</g>
<text x="876.8" y="937.5" font-size="41.6" text-anchor="start" >(c)</text>
<path d="M244.5 925.6L220.8 949.8H245.0" fill="none" stroke="#000" stroke-width="1.6"/>
<text x="247" y="950.8" font-size="38" text-anchor="start" >O1(2)-Si-O1(2)</text>
<path d="M262.0 1093.6L237.5 1117.8H262.5" fill="none" stroke="#000" stroke-width="1.6"/>
<text x="262.3" y="1118.3" font-size="38.6" text-anchor="start" >O1(2)-Si-O3</text>
<path d="M660.2 1100.2L636.2 1124.2H660.7" fill="none" stroke="#000" stroke-width="1.6"/>
<text x="662" y="1125.2" font-size="38.4" text-anchor="start" >O2-Si-O3</text>
<path d="M660.2 1157.4L636.2 1181.2H660.7" fill="none" stroke="#000" stroke-width="1.6"/>
<text x="662" y="1182" font-size="38.4" text-anchor="start" >O1-Si-O3</text>
<path d="M283.0 1265.0L259.0 1288.8H283.5" fill="none" stroke="#000" stroke-width="1.6"/>
<text x="284.3" y="1289.6" font-size="38.5" text-anchor="start" >O1-Si-O2</text>
<path d="M163.1 19.4H926.8V1339.3H163.1Z M163.1 459.0H926.8 M163.1 899.2H926.8" fill="none" stroke="#000" stroke-width="4.6" stroke-linejoin="round"/>
<text x="148" y="30.6" font-size="38" text-anchor="end" >0.34</text>
<text x="148" y="165.9" font-size="38" text-anchor="end" >0.32</text>
<text x="148" y="301.3" font-size="38" text-anchor="end" >0.30</text>
<text x="148" y="436.6" font-size="38" text-anchor="end" >0.28</text>
<text x="148" y="538.1" font-size="38" text-anchor="end" >1.80</text>
<text x="148" y="644.8" font-size="38" text-anchor="end" >1.76</text>
<text x="148" y="751.5" font-size="38" text-anchor="end" >1.72</text>
<text x="148" y="858.1" font-size="38" text-anchor="end" >1.68</text>
<text x="148" y="920.1" font-size="38.3" text-anchor="end" >102</text>
<text x="148" y="1035.0" font-size="38.3" text-anchor="end" >96</text>
<text x="148" y="1149.9" font-size="38.3" text-anchor="end" >90</text>
<text x="148" y="1264.8" font-size="38.3" text-anchor="end" >84</text>
<text x="179.7" y="1385" font-size="38.8" text-anchor="middle" >0</text>
<text x="345.7" y="1385" font-size="38.8" text-anchor="middle" >20</text>
<text x="511.7" y="1385" font-size="38.8" text-anchor="middle" >40</text>
<text x="677.7" y="1385" font-size="38.8" text-anchor="middle" >60</text>
<text x="843.7" y="1385" font-size="38.8" text-anchor="middle" >80</text>
<text x="552" y="1448.7" font-size="45.4" text-anchor="middle" >Pressure (GPa)</text>
<text transform="translate(36.5 488) rotate(-90)" font-size="42">Oxygen Coordinate (unity)</text>
<text transform="translate(37.5 840.9) rotate(-90)" font-size="42">Bond Length (Å)</text>
<text transform="translate(36.5 1253.8) rotate(-90)" font-size="42.4">Bond Angle (º)</text>
</g></svg></body></html>
